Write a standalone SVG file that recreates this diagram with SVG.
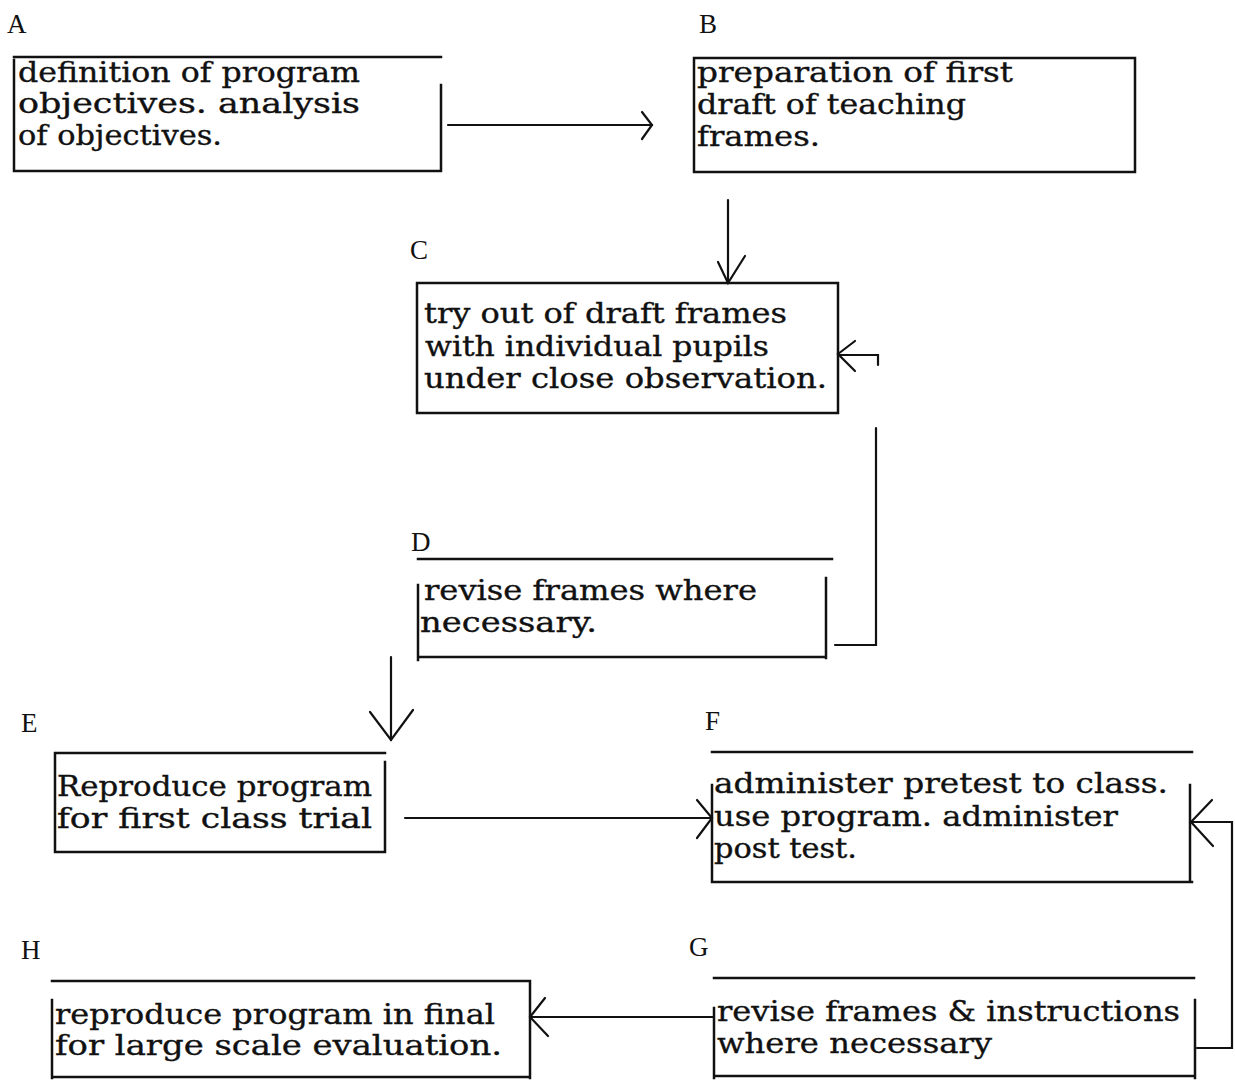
<svg xmlns="http://www.w3.org/2000/svg" width="1235" height="1080" viewBox="0 0 1235 1080">
<style>
.bg{fill:#ffffff}
.b{fill:none;stroke:#111;stroke-width:2.5;stroke-linecap:square}
.c{fill:none;stroke:#111;stroke-width:2.2;stroke-linecap:round;stroke-linejoin:miter}
.t{font-family:"DejaVu Serif","Liberation Serif",serif;font-size:27px;fill:#111;stroke:#111;stroke-width:0.35}
.l{font-family:"Liberation Serif","Times New Roman",serif;font-size:27px;fill:#111}
</style>
<rect class="bg" x="0" y="0" width="1235" height="1080"/>

<g id="connectors">
  <line class="c" x1="448" y1="125" x2="652" y2="125"/>
  <polyline class="c" points="642,112 652,125 642,139"/>
  <line class="c" x1="728" y1="200" x2="728" y2="283"/>
  <polyline class="c" points="718,262 728,283 745,256"/>
  <path class="c" d="M835,645 H876 V428 M878,365 V355 H838"/>
  <polyline class="c" points="855,341 838,354 855,371"/>
  <line class="c" x1="391" y1="657" x2="391" y2="740"/>
  <polyline class="c" points="370,712 391,740 413,710"/>
  <line class="c" x1="405" y1="818" x2="712" y2="818"/>
  <polyline class="c" points="697,800 712,818 697,838"/>
  <path class="c" d="M1197,1048 H1232 V822 H1192"/>
  <polyline class="c" points="1212,800 1191,822 1213,846"/>
  <line class="c" x1="714" y1="1017" x2="531" y2="1017"/>
  <polyline class="c" points="545,998 530,1017 548,1036"/>
</g>

<g id="node-A">
  <text class="l" x="7" y="33">A</text>
  <path class="b" d="M14,57 H441 M14,171 H441 M14,60 V171 M441,85 V171"/>
  <text class="t" x="18" y="82" textLength="342" lengthAdjust="spacingAndGlyphs">definition of program</text>
  <text class="t" x="18" y="113" textLength="342" lengthAdjust="spacingAndGlyphs">objectives.  analysis</text>
  <text class="t" x="18" y="145" textLength="204" lengthAdjust="spacingAndGlyphs">of objectives.</text>
</g>

<g id="node-B">
  <text class="l" x="699" y="33">B</text>
  <path class="b" d="M694,58 H1135 M694,172 H1135 M694,58 V172 M1135,58 V172"/>
  <text class="t" x="697" y="82" textLength="316" lengthAdjust="spacingAndGlyphs">preparation of first</text>
  <text class="t" x="697" y="114" textLength="269" lengthAdjust="spacingAndGlyphs">draft of teaching</text>
  <text class="t" x="697" y="146" textLength="123" lengthAdjust="spacingAndGlyphs">frames.</text>
</g>

<g id="node-C">
  <text class="l" x="410" y="259">C</text>
  <path class="b" d="M417,283 H838 M417,413 H838 M417,283 V413 M838,283 V413"/>
  <text class="t" x="424" y="323" textLength="363" lengthAdjust="spacingAndGlyphs">try out of draft frames</text>
  <text class="t" x="425" y="356" textLength="344" lengthAdjust="spacingAndGlyphs">with individual pupils</text>
  <text class="t" x="424" y="388" textLength="403" lengthAdjust="spacingAndGlyphs">under close observation.</text>
</g>

<g id="node-D">
  <text class="l" x="411" y="551">D</text>
  <path class="b" d="M418,559 H832 M418,657 H826 M418,585 V660 M826,578 V658"/>
  <text class="t" x="424" y="600" textLength="333" lengthAdjust="spacingAndGlyphs">revise frames where</text>
  <text class="t" x="420" y="632" textLength="177" lengthAdjust="spacingAndGlyphs">necessary.</text>
</g>

<g id="node-E">
  <text class="l" x="21" y="732">E</text>
  <path class="b" d="M55,753 H385 M55,852 H385 M55,753 V852 M385,762 V852"/>
  <text class="t" x="57" y="796" textLength="315" lengthAdjust="spacingAndGlyphs">Reproduce program</text>
  <text class="t" x="57" y="828" textLength="315" lengthAdjust="spacingAndGlyphs">for first class trial</text>
</g>

<g id="node-F">
  <text class="l" x="705" y="730">F</text>
  <path class="b" d="M712,752 H1192 M712,882 H1192 M712,785 V882 M1190,785 V882"/>
  <text class="t" x="714" y="793" textLength="454" lengthAdjust="spacingAndGlyphs">administer pretest to class.</text>
  <text class="t" x="714" y="826" textLength="404" lengthAdjust="spacingAndGlyphs">use program. administer</text>
  <text class="t" x="714" y="858" textLength="143" lengthAdjust="spacingAndGlyphs">post test.</text>
</g>

<g id="node-G">
  <text class="l" x="689" y="956">G</text>
  <path class="b" d="M714,978 H1194 M714,1076 H1195 M714,1008 V1078 M1195,1000 V1078"/>
  <text class="t" x="717" y="1021" textLength="463" lengthAdjust="spacingAndGlyphs">revise frames &amp; instructions</text>
  <text class="t" x="717" y="1053" textLength="275" lengthAdjust="spacingAndGlyphs">where necessary</text>
</g>

<g id="node-H">
  <text class="l" x="21" y="959">H</text>
  <path class="b" d="M52,981 H530 M52,1077 H530 M52,1000 V1078 M530,981 V1078"/>
  <text class="t" x="55" y="1024" textLength="440" lengthAdjust="spacingAndGlyphs">reproduce program in final</text>
  <text class="t" x="55" y="1055" textLength="447" lengthAdjust="spacingAndGlyphs">for large scale evaluation.</text>
</g>
</svg>
